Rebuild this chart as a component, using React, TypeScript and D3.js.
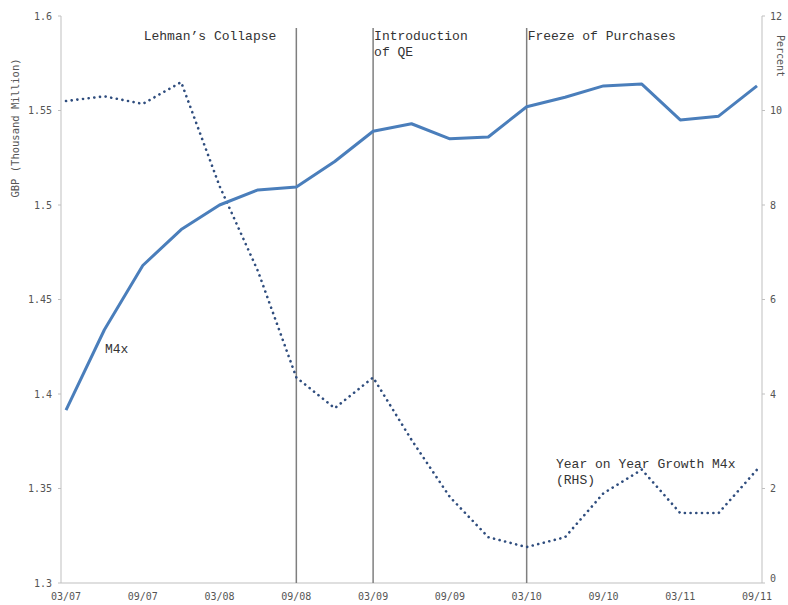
import React from "react";
import * as d3 from "d3";

const categories = ["03/07","06/07","09/07","12/07","03/08","06/08","09/08","12/08","03/09","06/09","09/09","12/09","03/10","06/10","09/10","12/10","03/11","06/11","09/11"];
const tickLabels = ["03/07","09/07","03/08","09/08","03/09","09/09","03/10","09/10","03/11","09/11"];
const m4xLevel = [1.3915,1.434,1.468,1.487,1.500,1.508,1.5095,1.523,1.539,1.543,1.535,1.536,1.552,1.557,1.563,1.564,1.545,1.547,1.563];
const m4xGrowth = [10.2,10.3,10.14,10.6,8.4,6.6,4.35,3.7,4.35,3.03,1.82,0.97,0.76,0.97,1.9,2.4,1.48,1.48,2.4];
const leftTicks = [1.3,1.35,1.4,1.45,1.5,1.55,1.6];
const rightTicks = [0,2,4,6,8,10,12];
const events = [
  { at: "09/08", lines: ["Lehman\u2019s Collapse"], side: "left" },
  { at: "03/09", lines: ["Introduction", "of QE"], side: "right" },
  { at: "03/10", lines: ["Freeze of Purchases"], side: "right" },
];

export default function App() {
  const W = 788, H = 605;
  const left = 61, right = 762, top = 16, bottom = 583;
  const x = d3.scalePoint<string>().domain(categories).range([66, 757]);
  const yL = d3.scaleLinear().domain([1.3, 1.6]).range([bottom, top]);
  const yR = d3.scaleLinear().domain([0, 12]).range([bottom, top]);
  const lineL = d3.line<number>().x((_, i) => x(categories[i])!).y(d => yL(d));
  const lineR = d3.line<number>().x((_, i) => x(categories[i])!).y(d => yR(d));
  const mono = "'Liberation Mono', 'DejaVu Sans Mono', monospace";
  const tickFont = "'DejaVu Sans Mono', monospace";
  return (
    <svg width={W} height={H} style={{ position: "absolute", left: 0, top: 0, background: "#fff" }}>
      <line x1={left} x2={left} y1={top} y2={bottom} stroke="#bfbfbf" />
      <line x1={right} x2={right} y1={top} y2={bottom} stroke="#bfbfbf" />
      <line x1={left} x2={right} y1={bottom} y2={bottom} stroke="#bfbfbf" />
      {leftTicks.map(t => (
        <g key={"l" + t}>
          <line x1={left - 3} x2={left} y1={yL(t)} y2={yL(t)} stroke="#bfbfbf" />
          <text x={left - 9} y={yL(t)} dy="0.35em" textAnchor="end" fontFamily={tickFont} fontSize={10} fill="#555">{String(t)}</text>
        </g>
      ))}
      {rightTicks.map(t => (
        <g key={"r" + t}>
          <line x1={right} x2={right + 3} y1={yR(t)} y2={yR(t)} stroke="#bfbfbf" />
          <text x={right + 8} y={yR(t)} dy={t === 0 ? "-0.1em" : "0.35em"} textAnchor="start" fontFamily={tickFont} fontSize={10} fill="#555">{String(t)}</text>
        </g>
      ))}
      {tickLabels.map(t => (
        <text key={"x" + t} x={x(t)!} y={600} textAnchor="middle" fontFamily={tickFont} fontSize={10} fill="#555">{t}</text>
      ))}
      <text transform={`translate(19,128) rotate(-90)`} textAnchor="middle" fontFamily={tickFont} fontSize={10.5} fill="#555">GBP (Thousand Million)</text>
      <text transform={`translate(777,56) rotate(90)`} textAnchor="middle" fontFamily={tickFont} fontSize={10} fill="#555">Percent</text>
      {events.map(e => (
        <line key={e.at} x1={x(e.at)!} x2={x(e.at)!} y1={28} y2={bottom} stroke="#7f7f7f" strokeWidth={1.5} />
      ))}
      {events.map(e => e.lines.map((ln, j) => (
        <text key={e.at + j} x={e.side === "left" ? x(e.at)! - 20 : x(e.at)! + 1} y={40 + j * 16} textAnchor={e.side === "left" ? "end" : "start"} fontFamily={mono} fontSize={13} fill="#333">{ln}</text>
      )))}
      <path d={lineR(m4xGrowth)!} fill="none" stroke="#2f4d7e" strokeWidth={2.6} strokeLinecap="round" strokeDasharray="0.1 5.6" />
      <path d={lineL(m4xLevel)!} fill="none" stroke="#4a7ebb" strokeWidth={3} strokeLinejoin="round" />
      <text x={105} y={353} fontFamily={mono} fontSize={13} fill="#333">M4x</text>
      <text x={556} y={468} fontFamily={mono} fontSize={13} fill="#333">Year on Year Growth M4x</text>
      <text x={556} y={484} fontFamily={mono} fontSize={13} fill="#333">(RHS)</text>
    </svg>
  );
}
